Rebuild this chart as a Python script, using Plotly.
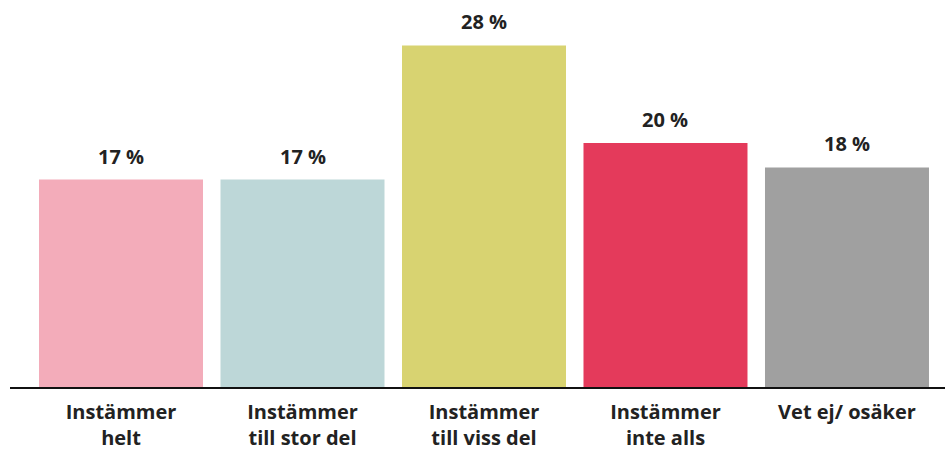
import plotly.graph_objects as go

categories = ["Instämmer<br>helt", "Instämmer<br>till stor del", "Instämmer<br>till viss del",
              "Instämmer<br>inte alls", "Vet ej/ osäker"]
values = [17, 17, 28, 20, 18]
value_labels = ["17 %", "17 %", "28 %", "20 %", "18 %"]
colors = ["#F3ACBA", "#BDD7D8", "#D8D371", "#E43A5B", "#A0A0A0"]

font_family = "Open Sans"
text_color = "#222222"

fig = go.Figure()
fig.add_trace(go.Bar(
    x=list(range(len(categories))),
    y=values,
    marker=dict(color=colors, line=dict(width=0)),
    width=0.9036,
    hoverinfo="skip",
))

for i, (v, t) in enumerate(zip(values, value_labels)):
    fig.add_annotation(x=i, y=v, text=t.replace(" ", "&nbsp;"), showarrow=False, yanchor="bottom", yshift=8,
                       font=dict(family=font_family, size=20, color=text_color, weight="bold"))

fig.update_layout(
    width=945, height=452,
    margin=dict(l=10, r=0, t=21, b=65),
    plot_bgcolor="white", paper_bgcolor="white",
    showlegend=False,
    xaxis=dict(
        range=[-0.6116, 4.540],
        tickmode="array", tickvals=list(range(len(categories))), ticktext=categories,
        showline=True, linecolor="#111111", linewidth=2,
        showgrid=False, zeroline=False, ticks="",
        tickfont=dict(family=font_family, size=20, color=text_color, weight="bold"),
        ticklabelstandoff=6, automargin=False,
    ),
    yaxis=dict(range=[0, 30], visible=False, showgrid=False, zeroline=False, automargin=False),
)

fig.write_html("out.html")
